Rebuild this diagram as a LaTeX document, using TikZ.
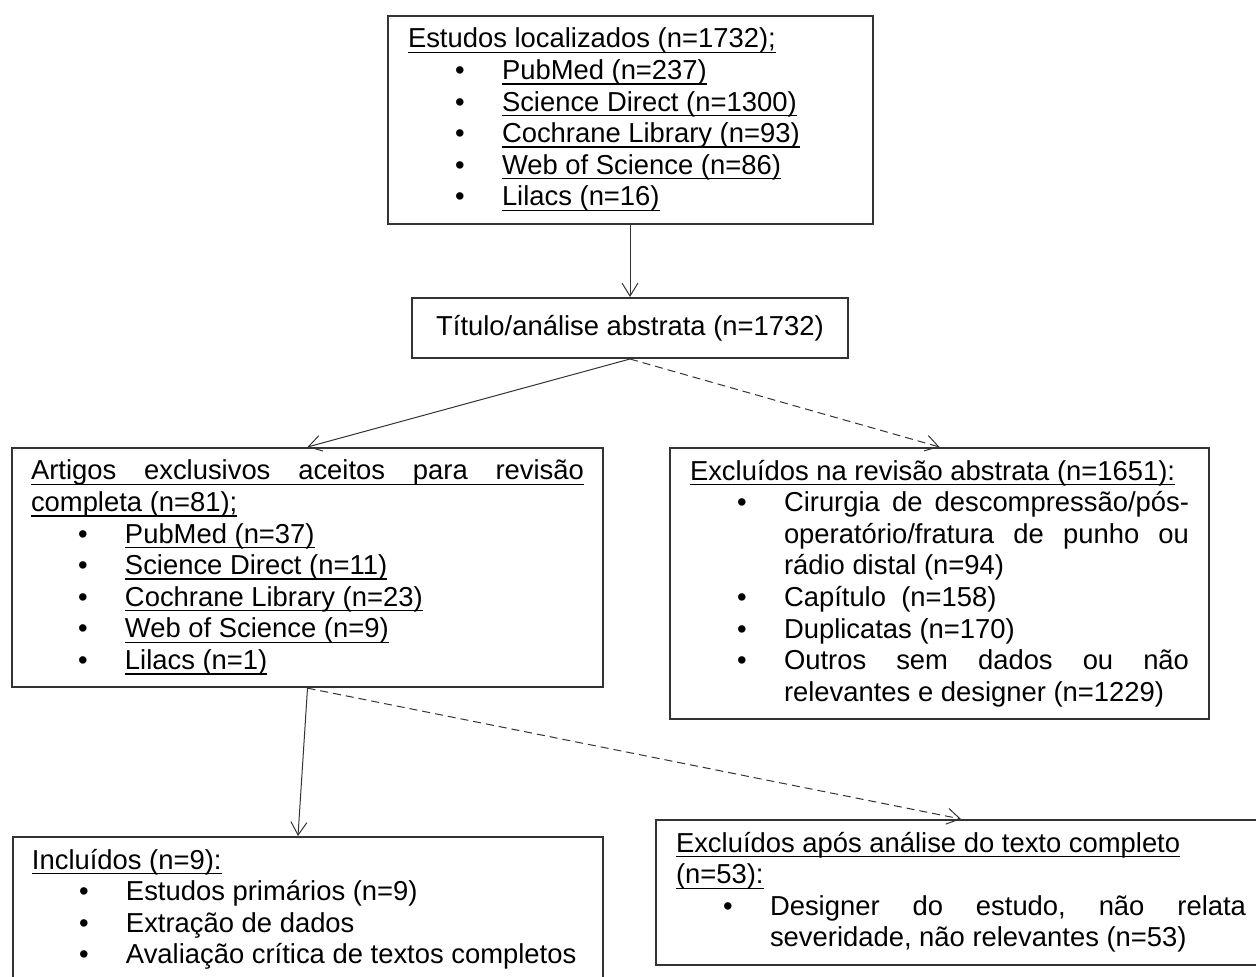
\documentclass[tikz,border=0pt]{standalone}
\usepackage{fontspec}
\setmainfont{Liberation Sans}
\usepackage{enumitem}
\usetikzlibrary{arrows.meta}

\frenchspacing
\newcommand{\uln}[1]{\leavevmode\setbox0\hbox{#1}\rlap{\rule[-2.6pt]{\wd0}{0.7pt}}\box0}
\setlist[itemize]{nosep, label=\textbullet, leftmargin=47pt, labelsep=18.6pt}
\newcommand{\boxtext}[2]{\begin{minipage}{#1}\hyphenpenalty=10000 #2\end{minipage}}

\begin{document}
\begin{tikzpicture}[x=0.5pt, y=-0.5pt,
  box/.style={draw=black!80, line width=1pt, inner xsep=10pt, inner ysep=6pt,
    font=\fontsize{13.7}{15.8}\selectfont, anchor=north west},
  arr/.style={draw=black!80, line width=0.5pt, -{Straight Barb[length=6.5pt, width=8pt]}},
  darr/.style={arr, dash pattern=on 4pt off 2.5pt}]
\useasboundingbox (0,0) rectangle (1256,976);

% boxes
\node[box] (found) at (387,15) {\boxtext{222.5pt}{%
\uln{Estudos localizados (n=1732);}
\begin{itemize}
\item \uln{PubMed (n=237)}
\item \uln{Science Direct (n=1300)}
\item \uln{Cochrane Library (n=93)}
\item \uln{Web of Science (n=86)}
\item \uln{Lilacs (n=16)}
\end{itemize}}};

\node[box, anchor=center, inner sep=0pt, minimum width=218pt, minimum height=30pt] (title) at (630,328)
  {Título/análise abstrata (n=1732)};

\node[box, inner xsep=9.5pt] (arts) at (11,447) {\boxtext{276.5pt}{%
\uln{\makebox[\linewidth][s]{Artigos exclusivos aceitos para revisão}}\\
\uln{completa (n=81);}
\begin{itemize}
\item \uln{PubMed (n=37)}
\item \uln{Science Direct (n=11)}
\item \uln{Cochrane Library (n=23)}
\item \uln{Web of Science (n=9)}
\item \uln{Lilacs (n=1)}
\end{itemize}}};

\node[box] (excl) at (669,447) {\boxtext{249.5pt}{%
\uln{Excluídos na revisão abstrata (n=1651):}
\begin{itemize}
\item Cirurgia de descompressão/pós-\linebreak
  operatório/fratura de punho ou\linebreak
  rádio distal (n=94)
\item Capítulo~ (n=158)
\item Duplicatas (n=170)
\item Outros sem dados ou não\linebreak
  relevantes e designer (n=1229)
\end{itemize}}};

\node[box, inner xsep=9.5pt] (incl) at (12,836) {\boxtext{276pt}{%
\uln{Incluídos (n=9):}
\begin{itemize}
\item Estudos primários (n=9)
\item Extração de dados
\item Avaliação crítica de textos completos
\end{itemize}}};

\node[box] (exfull) at (655,819) {\boxtext{285pt}{%
\uln{Excluídos após análise do texto completo}\\
\uln{(n=53):}
\begin{itemize}
\item Designer do estudo, não relata\linebreak
  severidade, não relevantes (n=53)
\end{itemize}}};

% connectors
\draw[arr] (found.south -| title.north) -- (title.north);
\draw[arr] (title.south) -- (arts.north);
\draw[darr] (title.south) -- (excl.north);
\draw[arr] (arts.south) -- ([xshift=-5pt]incl.north);
\draw[darr] (arts.south) -- (exfull.north);
\end{tikzpicture}
\end{document}
